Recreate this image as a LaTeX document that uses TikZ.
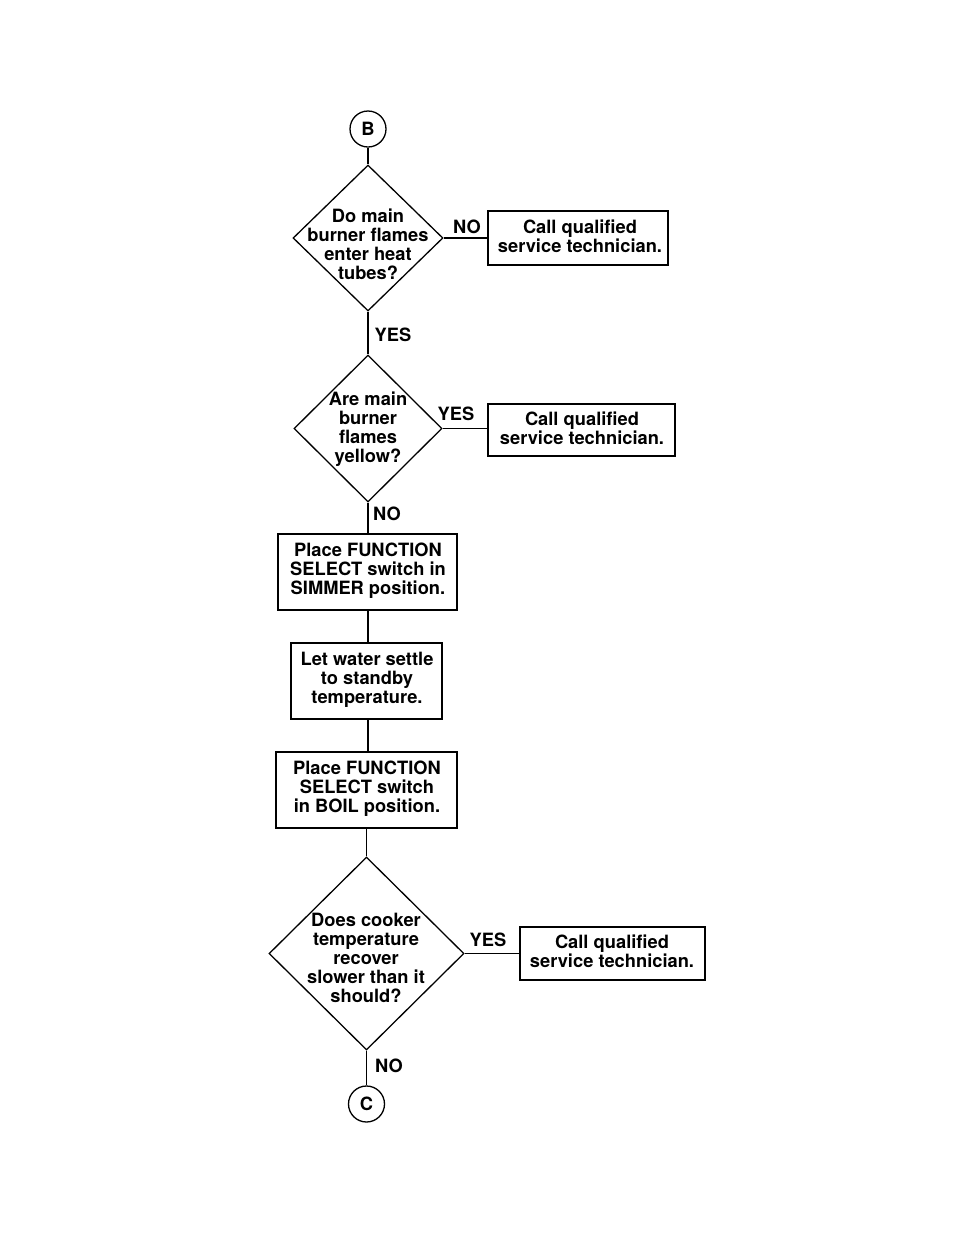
\documentclass[tikz,border=0pt]{standalone}
\usepackage{fontspec}
\setmainfont{TeX Gyre Heros}
\usetikzlibrary{shapes.geometric}
\begin{document}
\begin{tikzpicture}[x=1pt,y=-1pt,
  every node/.style={font=\bfseries\fontsize{18.3}{19}\selectfont},
  ln/.style={line width=1.3pt},
  boxnode/.style={draw,line width=1.3pt,rectangle,inner sep=0pt},
  dia/.style={draw,line width=1.3pt,diamond,inner sep=0pt},
  conn/.style={draw,line width=1.3pt,circle,inner sep=0pt,minimum size=36pt},
  txt/.style={align=center,inner sep=0pt},
  lab/.style={inner sep=0pt}]
\useasboundingbox (0,0) rectangle (954,1235);
% connectors
\node[conn] (B) at (368,129) {B};
\node[conn] (C) at (366.5,1104) {C};
% decisions
\node[dia,minimum width=150pt,minimum height=146pt] (d1) at (368,238) {};
\node[txt] (t1) at (368,244) {Do main\\burner flames\\enter heat\\tubes?};
\node[dia,minimum width=148pt,minimum height=147pt] (d2) at (368,428.5) {};
\node[txt] (t2) at (368,429) {Are main\\burner\\flames\\yellow?};
\node[dia,minimum width=195pt,minimum height=193pt] (d3) at (366.5,953.5) {};
\node[txt] (t3) at (366,957.5) {Does cooker\\temperature\\recover\\slower than it\\should?};
% boxes
\node[boxnode,minimum width=180pt,minimum height=54pt] (b1) at (578,238) {};
\node[txt] (bt1) at (580,236.5) {Call qualified\\service technician.};
\node[boxnode,minimum width=187pt,minimum height=52pt] (b2) at (581.5,430) {};
\node[txt] (bt2) at (582,428.5) {Call qualified\\service technician.};
\node[boxnode,minimum width=179pt,minimum height=76pt] (b3) at (367.5,572) {};
\node[txt] (bt3) at (368,571) {Place FUNCTION\\SELECT switch in\\SIMMER position.};
\node[boxnode,minimum width=151pt,minimum height=76pt] (b4) at (366.5,681) {};
\node[txt] (bt4) at (367,680) {Let water settle\\to standby\\temperature.};
\node[boxnode,minimum width=181pt,minimum height=76pt] (b5) at (366.5,790) {};
\node[txt] (bt5) at (367,789) {Place FUNCTION\\SELECT switch\\in BOIL position.};
\node[boxnode,minimum width=185pt,minimum height=53pt] (b6) at (612.5,953.5) {};
\node[txt] (bt6) at (612,951.5) {Call qualified\\service technician.};
% lines
\draw[ln] (B) -- (d1.north);
\draw[ln] (d1.east) -- (b1.west);
\draw[ln] (d1.south) -- (d2.north);
\draw[ln] (d2.east) -- (b2.west |- d2.east);
\draw[ln] (d2.south) -- (d2.south |- b3.north);
\draw[ln] (b3.south -| d2.south) -- (d2.south |- b4.north);
\draw[ln] (b4.south -| d2.south) -- (d2.south |- b5.north);
\draw[ln] (b5.south) -- (d3.north);
\draw[ln] (d3.east) -- (b6.west);
\draw[ln] (d3.south) -- (C);
% labels
\node[lab] (l1) at (467,227) {NO};
\node[lab] (l2) at (393,335) {YES};
\node[lab] (l3) at (456,414) {YES};
\node[lab] (l4) at (387,514) {NO};
\node[lab] (l5) at (488,940) {YES};
\node[lab] (l6) at (389,1066) {NO};
\end{tikzpicture}
\end{document}
